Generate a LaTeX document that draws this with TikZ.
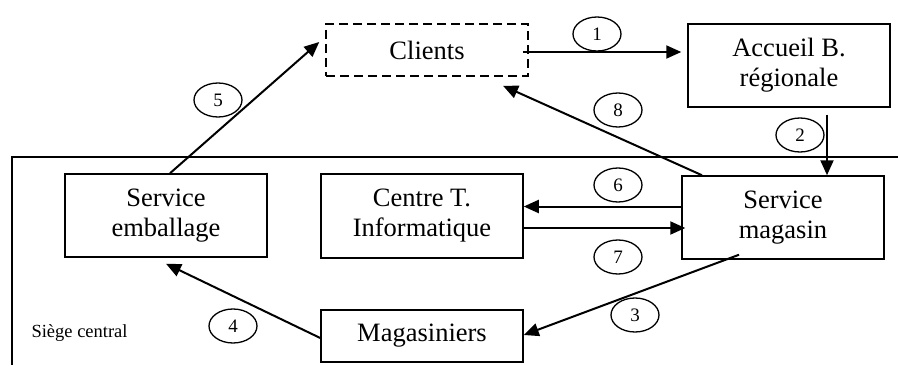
\documentclass[tikz,border=0pt]{standalone}
\usepackage{fontspec}
\setmainfont{Liberation Serif}
\usetikzlibrary{shapes.geometric,arrows.meta}

\begin{document}
\begin{tikzpicture}[x=1pt,y=1pt,
    boite/.style={draw,line width=1.5pt,minimum width=202pt,align=center,
      font=\fontsize{26.5}{30}\selectfont},
    numero/.style={draw,ellipse,line width=1.3pt,minimum width=48pt,minimum height=34pt,
      inner sep=0pt,fill=white,font=\fontsize{19}{20}\selectfont},
    fleche/.style={line width=2pt,-{Triangle[length=15pt,width=13pt]}}]
  \useasboundingbox (0,0) rectangle (898,365);

  % cadre du siege
  \draw[line width=1.5pt] (898,208) -- (12,208) -- (12,0);
  \node[anchor=west,font=\fontsize{18.5}{20}\selectfont] (siege) at (28,32) {Siège central};

  % les services
  \node[boite,dash pattern=on 9pt off 5pt,minimum height=52pt] (clients) at (427,315) {Clients};
  \node[boite,minimum height=83pt] (accueil) at (789,299.5) {Accueil B.\\régionale};
  \node[boite,minimum height=83pt] (emballage) at (166,149.5) {Service\\emballage};
  \node[boite,minimum height=84pt] (centre) at (422,149) {Centre T.\\Informatique};
  \node[boite,minimum height=83pt] (magasin) at (783,147.5) {Service\\magasin};
  \node[boite,minimum height=52pt] (magasiniers) at (422,29) {Magasiniers};

  % les flux
  \draw[fleche] ([xshift=-6pt,yshift=-2pt]clients.east) -- ([xshift=-6pt,yshift=-2pt]clients.east -| accueil.west);
  \draw[fleche] ([xshift=38pt,yshift=-7pt]accueil.south) -- ([xshift=38pt]accueil.south |- magasin.north);
  \draw[fleche] ([xshift=-44pt,yshift=5pt]magasin.south) -- ([yshift=1pt]magasiniers.east);
  \draw[fleche] ([yshift=-2pt]magasiniers.west) -- ([yshift=-6pt]emballage.south);
  \draw[fleche] ([xshift=4pt]emballage.north) -- ([xshift=-6pt,yshift=8pt]clients.west);
  \draw[fleche] ([yshift=11pt]magasin.west) -- ([yshift=11pt]magasin.west -| centre.east);
  \draw[fleche] ([yshift=-12pt]centre.east) -- ([xshift=4pt,yshift=-12pt]centre.east -| magasin.west);
  \draw[fleche] ([xshift=-81pt]magasin.north) -- ([xshift=76pt,yshift=-9pt]clients.south);

  % les numeros
  \node[numero] (n1) at (597,331) {1};
  \node[numero] (n2) at (800,230) {2};
  \node[numero] (n3) at (635,50) {3};
  \node[numero] (n4) at (233,39) {4};
  \node[numero] (n5) at (218,265) {5};
  \node[numero] (n6) at (618,180) {6};
  \node[numero] (n7) at (618,108) {7};
  \node[numero] (n8) at (618,255) {8};
\end{tikzpicture}
\end{document}
